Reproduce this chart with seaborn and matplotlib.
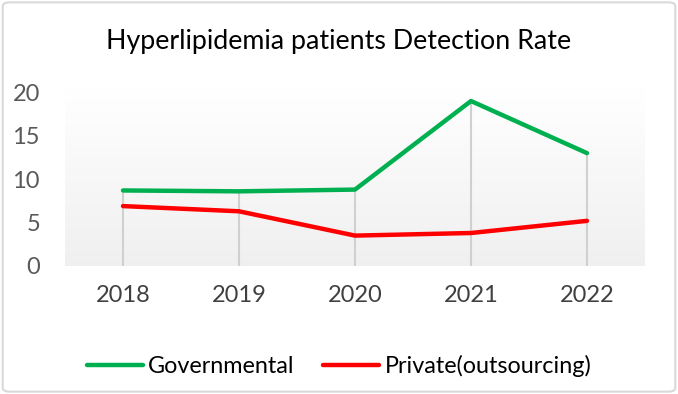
import numpy as np
import pandas as pd
import matplotlib
matplotlib.use("Agg")
import matplotlib.pyplot as plt
import seaborn as sns
from matplotlib.patches import FancyBboxPatch
from matplotlib.lines import Line2D

years = ["2018", "2019", "2020", "2021", "2022"]
governmental = [8.7, 8.6, 8.8, 19.0, 13.0]
private = [6.9, 6.3, 3.5, 3.8, 5.2]
series_names = ["Governmental", "Private(outsourcing)"]
colors = ["#00B050", "#FF0000"]
title = "Hyperlipidemia patients Detection Rate"

df = pd.DataFrame({
    "year": years * 2,
    "value": governmental + private,
    "series": [series_names[0]] * len(years) + [series_names[1]] * len(years),
})
df["x"] = list(range(len(years))) * 2

sns.set_theme(style="white")
plt.rcParams["font.family"] = ["Lato", "DejaVu Sans"]

fig = plt.figure(figsize=(6.78, 3.94), dpi=100)
fig.patch.set_facecolor("white")
# outer rounded border
border = FancyBboxPatch((0.004, 0.006), 0.992, 0.988, boxstyle="round,pad=0,rounding_size=0.01",
                        transform=fig.transFigure, facecolor="none", edgecolor="#d9d9d9",
                        linewidth=1.5, zorder=-5)
fig.patches.append(border)

W, H = 678, 394
ax = fig.add_axes([65 / W, 1 - 266 / H, (645 - 65) / W, (266 - 88) / H])
ax.set_facecolor("none")

# gradient background
grad = np.linspace(1.0, 0.0, 256).reshape(-1, 1)
top = np.array([1.0, 1.0, 1.0])
bot = np.array([0.94, 0.94, 0.94])
img = top * grad[..., None] + bot * (1 - grad[..., None])
ax.imshow(img, extent=[-0.5, len(years) - 0.5, 0, 20.5], aspect="auto", zorder=0, origin="upper")

# drop lines
maxv = np.maximum(governmental, private)
ax.vlines(range(len(years)), 0, maxv, colors="#d0d0d0", linewidth=1.5, zorder=1)

sns.lineplot(data=df, x="x", y="value", hue="series", palette=colors, linewidth=3.2,
             ax=ax, legend=False, zorder=3, solid_capstyle="round")

ax.set_xlim(-0.5, len(years) - 0.5)
ax.set_ylim(0, 20.5)
ax.set_yticks([0, 5, 10, 15, 20])
ax.set_xticks(range(len(years)))
ax.set_xticklabels(years)
ax.set_xlabel("")
ax.set_ylabel("")
for s in ax.spines.values():
    s.set_visible(False)
ax.tick_params(axis="both", length=0, labelsize=17, labelcolor="#595959")
ax.tick_params(axis="x", pad=14)
ax.tick_params(axis="y", pad=18)
for lbl in ax.get_xticklabels():
    lbl.set_color("#404040")

fig.text(0.5, 1 - 42 / H, title, ha="center", va="center", fontsize=19.3, color="#000000")

handles = [Line2D([0], [0], color=c, linewidth=3.2, solid_capstyle="round") for c in colors]
fig.legend(handles, series_names, loc="center", bbox_to_anchor=(0.5, 1 - 366 / H), ncol=2,
           frameon=False, fontsize=16.8, handlelength=2.4, handletextpad=0.25, columnspacing=1.2,
           labelcolor="#000000")

fig.savefig("out.png", dpi=100)
